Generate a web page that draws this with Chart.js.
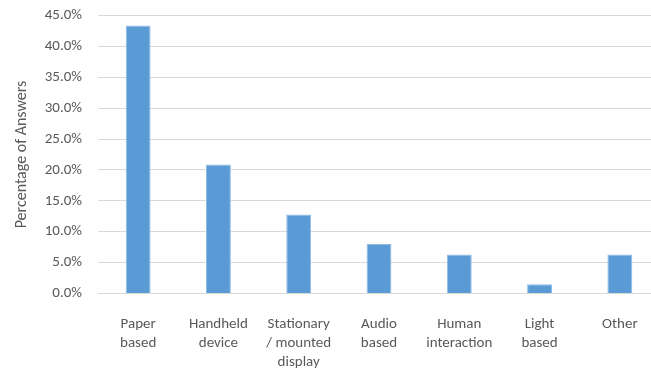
<!DOCTYPE html>
<html>
<head>
<meta charset="utf-8">
<script src="https://cdn.jsdelivr.net/npm/chart.js@4"></script>
<style>
  html, body { margin: 0; padding: 0; background: #fff; overflow: hidden; width: 651px; height: 368px; }
  canvas { display: block; }
</style>
</head>
<body>
<canvas id="grafica" width="660" height="368"></canvas>
<script>
  // Categorías (etiquetas de varias líneas)
  const categorias = [
    ['Paper', 'based'],
    ['Handheld', 'device'],
    ['Stationary', '/ mounted', 'display'],
    ['Audio', 'based'],
    ['Human', 'interaction'],
    ['Light', 'based'],
    ['Other']
  ];
  // Porcentaje de respuestas
  const valores = [43.4, 20.9, 12.8, 8.0, 6.3, 1.5, 6.3];
  const ejeY = { min: 0, max: 45, paso: 5 };

  const fuente = "Carlito, Lato, 'Liberation Sans', sans-serif";
  const gris = '#595959';

  const ctx = document.getElementById('grafica').getContext('2d');
  new Chart(ctx, {
    type: 'bar',
    data: {
      labels: categorias,
      datasets: [{
        data: valores,
        backgroundColor: '#5B9BD5',
        borderColor: '#8FBCE6',
        borderWidth: 1,
        barPercentage: 0.62,
        categoryPercentage: 0.5
      }]
    },
    options: {
      responsive: false,
      animation: false,
      layout: { padding: { top: 15.5, left: 0, right: 0, bottom: 0 } },
      plugins: {
        legend: { display: false },
        tooltip: { enabled: false }
      },
      scales: {
        x: {
          grid: { display: false },
          border: { display: false },
          ticks: {
            color: gris,
            font: { family: fuente, size: 15, lineHeight: 1.27 },
            maxRotation: 0,
            autoSkip: false,
            padding: 13
          },
          afterFit: (s) => { s.height = 74.5; s.paddingLeft = 0; s.paddingRight = 0; }
        },
        y: {
          min: ejeY.min,
          max: ejeY.max,
          grid: { color: '#d9d9d9', lineWidth: 1, drawTicks: false },
          border: { display: false },
          ticks: {
            stepSize: ejeY.paso,
            color: gris,
            font: { family: fuente, size: 15 },
            padding: 16,
            callback: (v) => v.toFixed(1) + '%'
          },
          title: {
            display: true,
            text: 'Percentage of Answers',
            color: gris,
            font: { family: fuente, size: 16 },
            padding: { top: 12, bottom: 2 }
          },
          afterFit: (s) => { s.width = 98; s.paddingTop = 0; s.paddingBottom = 0; }
        }
      }
    }
  });
</script>
</body>
</html>
